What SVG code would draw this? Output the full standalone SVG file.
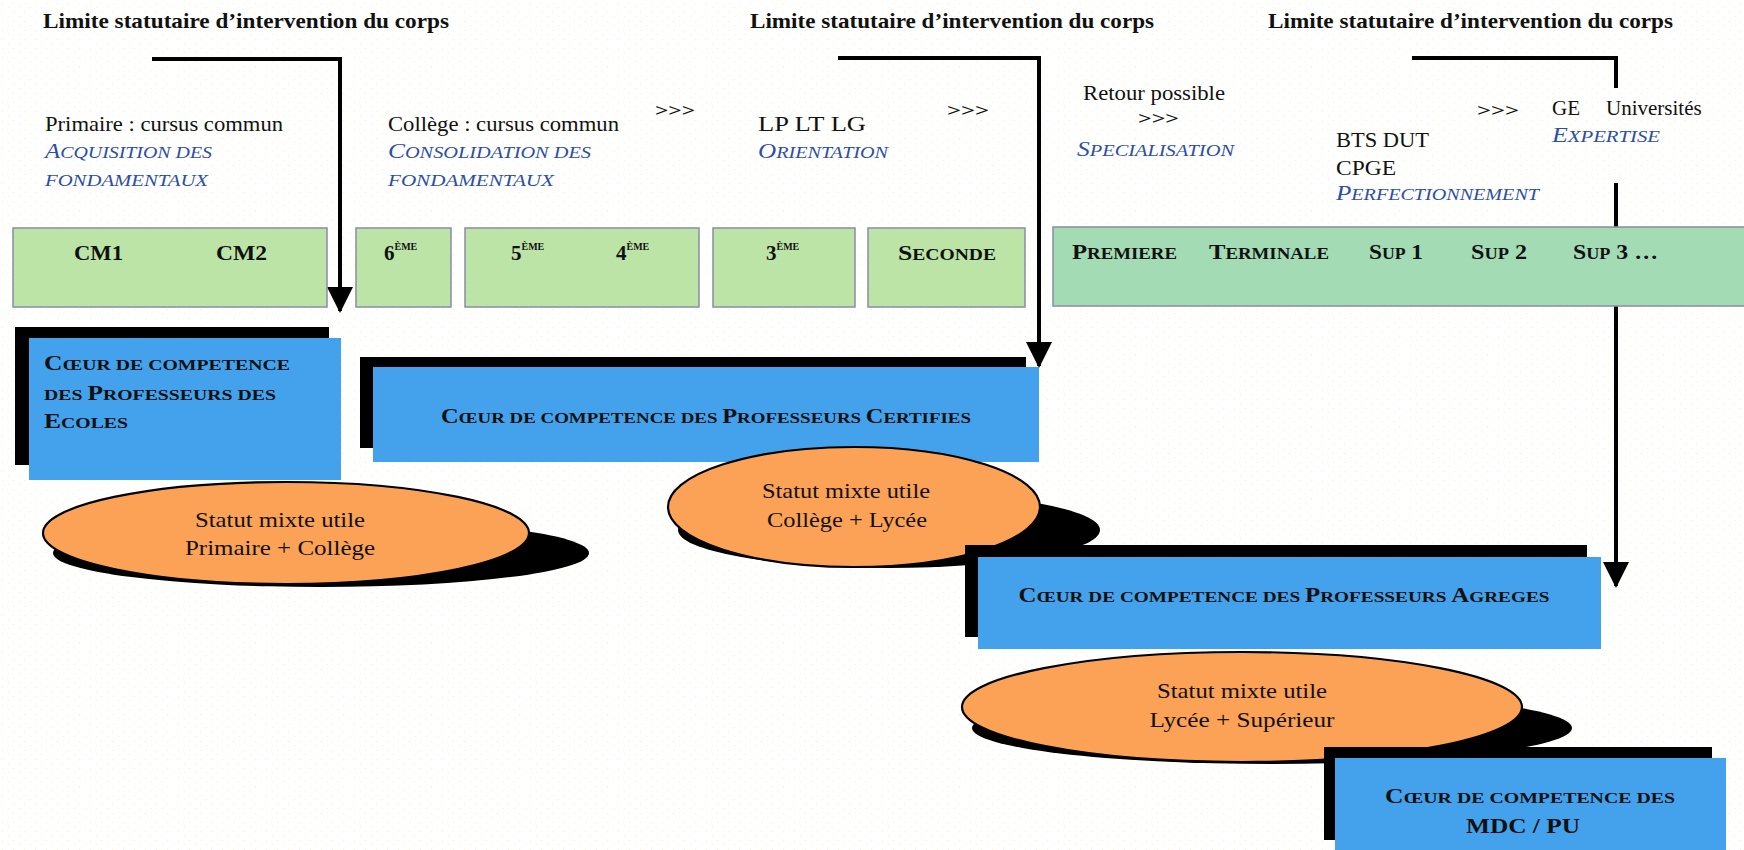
<svg xmlns="http://www.w3.org/2000/svg" width="1744" height="850" viewBox="0 0 1744 850">
<style>
text{font-family:"Liberation Serif","Times New Roman",serif;fill:#111}
.title{font-weight:bold;font-size:22px}
.desc{font-size:21px}
.arr{font-weight:bold;font-size:17px}
.it{font-style:italic;font-size:20px;fill:#2d4ea6}
.it .s{font-size:16px}
.lbl{font-weight:bold;font-size:21px}
.lbl .s{font-size:16px}
.sup{font-size:10px}
.box{font-weight:bold;font-size:20px}
.box .s{font-size:15.5px}
.ell{font-size:22px}
.green{fill:#bce4a6;stroke:#8b8ba6;stroke-width:1.5}
.green2{fill:#a3dbb5;stroke:#8b8ba6;stroke-width:1.5}
.blue{fill:#44a2ec}
.shadow{fill:#000}
.oval{fill:#fba257;stroke:#000;stroke-width:2.2}
.conn{fill:none;stroke:#000;stroke-width:4}
</style>
<defs>
<pattern id="dots" width="11" height="9" patternUnits="userSpaceOnUse">
<rect x="2" y="3" width="1.2" height="1.2" fill="#f6ee9c"/>
<rect x="8" y="7" width="1.2" height="1.2" fill="#f8f2b8"/>
</pattern>
<marker id="ah" markerUnits="userSpaceOnUse" markerWidth="26" markerHeight="26" viewBox="0 0 26 26" refX="24" refY="13" orient="auto">
<path d="M0,0 L26,13 L0,26 Z" fill="#000"/>
</marker>
</defs>
<rect x="0" y="0" width="1744" height="850" fill="#fff"/>
<rect x="0" y="0" width="1744" height="850" fill="url(#dots)" opacity="0.6"/>

<g id="connectors">
<path class="conn" d="M152,59 H340 V311" marker-end="url(#ah)"/>
<path class="conn" d="M838,58 H1039 V366" marker-end="url(#ah)"/>
<path class="conn" d="M1412,58 H1616 V88"/>
<path class="conn" d="M1616,183 V586" marker-end="url(#ah)"/>
</g>

<g id="titles">
<text class="title" x="43" y="28" textLength="406" lengthAdjust="spacingAndGlyphs">Limite statutaire d’intervention du corps</text>
<text class="title" x="750" y="28" textLength="404" lengthAdjust="spacingAndGlyphs">Limite statutaire d’intervention du corps</text>
<text class="title" x="1268" y="28" textLength="405" lengthAdjust="spacingAndGlyphs">Limite statutaire d’intervention du corps</text>
</g>

<g id="stage-primaire">
<text class="desc" x="45" y="131" textLength="238" lengthAdjust="spacingAndGlyphs">Primaire : cursus commun</text>
<text class="it" x="45" y="158" textLength="167" lengthAdjust="spacingAndGlyphs">A<tspan class="s">CQUISITION DES</tspan></text>
<text class="it" x="45" y="186" textLength="163" lengthAdjust="spacingAndGlyphs"><tspan class="s">FONDAMENTAUX</tspan></text>
</g>
<g id="stage-college">
<text class="desc" x="388" y="131" textLength="231" lengthAdjust="spacingAndGlyphs">Collège : cursus commun</text>
<text class="it" x="388" y="158" textLength="203" lengthAdjust="spacingAndGlyphs">C<tspan class="s">ONSOLIDATION DES</tspan></text>
<text class="it" x="388" y="186" textLength="166" lengthAdjust="spacingAndGlyphs"><tspan class="s">FONDAMENTAUX</tspan></text>
<text class="arr" x="655" y="116" textLength="40" lengthAdjust="spacingAndGlyphs">&gt;&gt;&gt;</text>
</g>
<g id="stage-lycee">
<text class="desc" x="758" y="131" textLength="108" lengthAdjust="spacingAndGlyphs">LP  LT  LG</text>
<text class="it" x="758" y="158" textLength="130" lengthAdjust="spacingAndGlyphs">O<tspan class="s">RIENTATION</tspan></text>
<text class="arr" x="947" y="116" textLength="42" lengthAdjust="spacingAndGlyphs">&gt;&gt;&gt;</text>
</g>
<g id="stage-specialisation">
<text class="desc" x="1083" y="100" textLength="142" lengthAdjust="spacingAndGlyphs">Retour possible</text>
<text class="arr" x="1138" y="124" textLength="41" lengthAdjust="spacingAndGlyphs">&gt;&gt;&gt;</text>
<text class="it" x="1077" y="156" textLength="157" lengthAdjust="spacingAndGlyphs">S<tspan class="s">PECIALISATION</tspan></text>
</g>
<g id="stage-perfectionnement">
<text class="desc" x="1336" y="147" textLength="93" lengthAdjust="spacingAndGlyphs">BTS DUT</text>
<text class="desc" x="1336" y="175" textLength="60" lengthAdjust="spacingAndGlyphs">CPGE</text>
<text class="it" x="1336" y="200" textLength="203" lengthAdjust="spacingAndGlyphs">P<tspan class="s">ERFECTIONNEMENT</tspan></text>
<text class="arr" x="1477" y="116" textLength="42" lengthAdjust="spacingAndGlyphs">&gt;&gt;&gt;</text>
</g>
<g id="stage-expertise">
<text class="desc" x="1552" y="115">GE<tspan x="1606">Universités</tspan></text>
<text class="it" x="1552" y="142" textLength="108" lengthAdjust="spacingAndGlyphs">E<tspan class="s">XPERTISE</tspan></text>
</g>

<g id="grade-cm">
<rect class="green" x="13" y="228" width="314" height="79"/>
<text class="lbl" x="74" y="260" textLength="49" lengthAdjust="spacingAndGlyphs">CM1</text>
<text class="lbl" x="216" y="260" textLength="51" lengthAdjust="spacingAndGlyphs">CM2</text>
</g>
<g id="grade-6">
<rect class="green" x="356" y="228" width="95" height="79"/>
<text class="lbl" x="384" y="260">6<tspan class="sup" dy="-10">ÈME</tspan></text>
</g>
<g id="grade-5-4">
<rect class="green" x="465" y="228" width="234" height="79"/>
<text class="lbl" x="511" y="260">5<tspan class="sup" dy="-10">ÈME</tspan></text>
<text class="lbl" x="616" y="260">4<tspan class="sup" dy="-10">ÈME</tspan></text>
</g>
<g id="grade-3">
<rect class="green" x="713" y="228" width="142" height="79"/>
<text class="lbl" x="766" y="260">3<tspan class="sup" dy="-10">ÈME</tspan></text>
</g>
<g id="grade-seconde">
<rect class="green" x="868" y="228" width="157" height="79"/>
<text class="lbl" x="898" y="260" textLength="98" lengthAdjust="spacingAndGlyphs">S<tspan class="s">ECONDE</tspan></text>
</g>
<g id="grade-lycee-sup">
<rect class="green2" x="1053" y="227" width="700" height="79"/>
<text class="lbl" x="1072" y="259" textLength="105" lengthAdjust="spacingAndGlyphs">P<tspan class="s">REMIERE</tspan></text>
<text class="lbl" x="1209" y="259" textLength="120" lengthAdjust="spacingAndGlyphs">T<tspan class="s">ERMINALE</tspan></text>
<text class="lbl" x="1369" y="259" textLength="54" lengthAdjust="spacingAndGlyphs">S<tspan class="s">UP</tspan> 1</text>
<text class="lbl" x="1471" y="259" textLength="56" lengthAdjust="spacingAndGlyphs">S<tspan class="s">UP</tspan> 2</text>
<text class="lbl" x="1573" y="259" textLength="85" lengthAdjust="spacingAndGlyphs">S<tspan class="s">UP</tspan> 3 …</text>
</g>

<g id="coeur-ecoles">
<rect class="shadow" x="15" y="327" width="314" height="138"/>
<rect class="blue" x="29" y="338" width="312" height="142"/>
<text class="box" x="44" y="370" textLength="246" lengthAdjust="spacingAndGlyphs">C<tspan class="s">ŒUR DE COMPETENCE</tspan></text>
<text class="box" x="44" y="400" textLength="232" lengthAdjust="spacingAndGlyphs"><tspan class="s">DES </tspan>P<tspan class="s">ROFESSEURS DES</tspan></text>
<text class="box" x="44" y="428" textLength="84" lengthAdjust="spacingAndGlyphs">E<tspan class="s">COLES</tspan></text>
</g>
<g id="mixte-primaire-college">
<ellipse class="shadow" cx="321" cy="553" rx="268" ry="34"/>
<ellipse class="oval" cx="286" cy="533" rx="243" ry="51"/>
<text class="ell" x="280" y="527" text-anchor="middle" textLength="170" lengthAdjust="spacingAndGlyphs">Statut mixte utile</text>
<text class="ell" x="280" y="555" text-anchor="middle" textLength="190" lengthAdjust="spacingAndGlyphs">Primaire + Collège</text>
</g>
<g id="coeur-certifies">
<rect class="shadow" x="360" y="357" width="666" height="91"/>
<rect class="blue" x="373" y="367" width="666" height="95"/>
<text class="box" x="706" y="423" text-anchor="middle" textLength="530" lengthAdjust="spacingAndGlyphs">C<tspan class="s">ŒUR DE COMPETENCE DES </tspan>P<tspan class="s">ROFESSEURS </tspan>C<tspan class="s">ERTIFIES</tspan></text>
</g>
<g id="mixte-college-lycee">
<ellipse class="shadow" cx="889" cy="530" rx="211" ry="38"/>
<ellipse class="oval" cx="854" cy="507" rx="186" ry="60"/>
<text class="ell" x="846" y="498" text-anchor="middle" textLength="168" lengthAdjust="spacingAndGlyphs">Statut mixte utile</text>
<text class="ell" x="847" y="527" text-anchor="middle" textLength="160" lengthAdjust="spacingAndGlyphs">Collège + Lycée</text>
</g>
<g id="coeur-agreges">
<rect class="shadow" x="965" y="545" width="622" height="92"/>
<rect class="blue" x="978" y="557" width="623" height="92"/>
<text class="box" x="1284" y="602" text-anchor="middle" textLength="531" lengthAdjust="spacingAndGlyphs">C<tspan class="s">ŒUR DE COMPETENCE DES </tspan>P<tspan class="s">ROFESSEURS </tspan>A<tspan class="s">GREGES</tspan></text>
</g>
<g id="mixte-lycee-superieur">
<ellipse class="shadow" cx="1272" cy="728" rx="300" ry="36"/>
<ellipse class="oval" cx="1242" cy="707" rx="280" ry="55"/>
<text class="ell" x="1242" y="698" text-anchor="middle" textLength="170" lengthAdjust="spacingAndGlyphs">Statut mixte utile</text>
<text class="ell" x="1242" y="727" text-anchor="middle" textLength="185" lengthAdjust="spacingAndGlyphs">Lycée + Supérieur</text>
</g>
<g id="coeur-mdc-pu">
<rect class="shadow" x="1324" y="747" width="388" height="93"/>
<rect class="blue" x="1335" y="758" width="391" height="100"/>
<text class="box" x="1530" y="803" text-anchor="middle" textLength="290" lengthAdjust="spacingAndGlyphs">C<tspan class="s">ŒUR DE COMPETENCE DES</tspan></text>
<text class="box" x="1523" y="833" text-anchor="middle" textLength="114" lengthAdjust="spacingAndGlyphs">MDC / PU</text>
</g>
</svg>
